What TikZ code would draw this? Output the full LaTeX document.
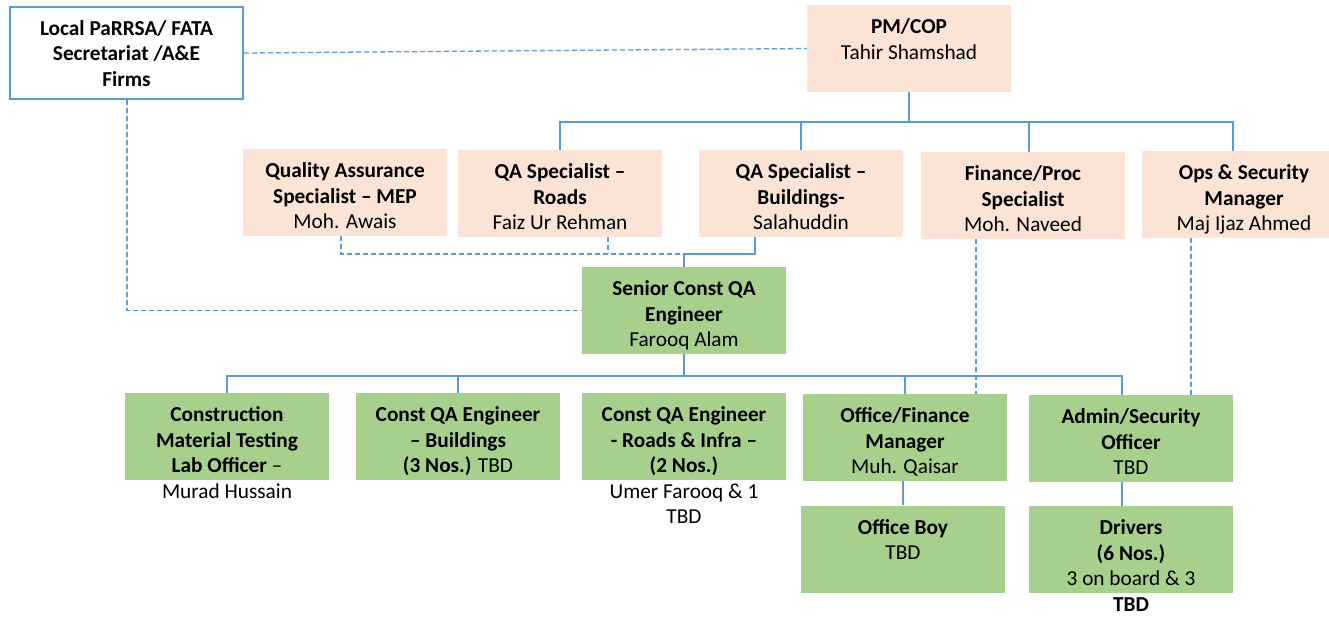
\documentclass[tikz,border=0pt]{standalone}
\usepackage{fontspec}
\setmainfont{Carlito}
\usetikzlibrary{positioning}
\definecolor{peach}{HTML}{FBE4D5}
\definecolor{leaf}{HTML}{A8D08D}
\definecolor{linkblue}{HTML}{5B9BD5}
\tikzset{
  post/.style={minimum width=204pt, minimum height=87pt, inner sep=0pt, draw=none},
  upper/.style={post, fill=peach},
  lower/.style={post, fill=leaf},
  caption/.style={anchor=north, inner sep=0pt, align=center, text=black,
    font=\fontsize{21.3}{25.5}\selectfont, execute at begin node=\strut},
  link/.style={draw=linkblue, line width=1.3pt},
  dotlink/.style={link, dash pattern=on 5pt off 3pt},
}
\begin{document}
\begin{tikzpicture}[x=1pt, y=-1pt]
    \useasboundingbox (0,0) rectangle (1329,616);

    % 外部单位与 PM/COP
    \node[post, fill=white, draw=linkblue, line width=2pt, minimum width=233pt, minimum height=92pt] (local) at (126.5,53) {};
    \node[caption, below=14pt of local.north] (local-t) {\textbf{Local PaRRSA/ FATA}\\\textbf{Secretariat /A\&E}\\\textbf{Firms}};
    \node[upper] (pm) at (909,48.5) {};
    \node[caption, below=14pt of pm.north] (pm-t) {\textbf{PM/COP}\\Tahir Shamshad};

    % 第二层：专家
    \node[upper] (mep) at (345,192.5) {};
    \node[caption, below=14pt of mep.north] (mep-t) {\textbf{Quality Assurance}\\\textbf{Specialist – MEP}\\Moh. Awais};
    \node[upper] (roads) at (560,193.5) {};
    \node[caption, below=14pt of roads.north] (roads-t) {\textbf{QA Specialist –}\\\textbf{Roads}\\Faiz Ur Rehman};
    \node[upper] (bldg) at (801,193.5) {};
    \node[caption, below=14pt of bldg.north] (bldg-t) {\textbf{QA Specialist –}\\\textbf{Buildings-}\\Salahuddin};
    \node[upper] (fin) at (1023,195.5) {};
    \node[caption, below=14pt of fin.north] (fin-t) {\textbf{Finance/Proc}\\\textbf{Specialist}\\Moh. Naveed};
    \node[upper] (ops) at (1244,194.5) {};
    \node[caption, below=14pt of ops.north] (ops-t) {\textbf{Ops \& Security}\\\textbf{Manager}\\Maj Ijaz Ahmed};

    % 第三层：高级工程师
    \node[lower] (senior) at (684,310.5) {};
    \node[caption, below=14pt of senior.north] (senior-t) {\textbf{Senior Const QA}\\\textbf{Engineer}\\Farooq Alam};

    % 第四层
    \node[lower] (lab) at (227,436.5) {};
    \node[caption, below=14pt of lab.north] (lab-t) {\textbf{Construction}\\\textbf{Material Testing}\\\textbf{Lab Officer} –\\Murad Hussain};
    \node[lower] (cqab) at (458,436.5) {};
    \node[caption, below=14pt of cqab.north] (cqab-t) {\textbf{Const QA Engineer}\\\textbf{– Buildings}\\\textbf{(3 Nos.)} TBD};
    \node[lower] (cqar) at (684,436.5) {};
    \node[caption, below=14pt of cqar.north] (cqar-t) {\textbf{Const QA Engineer}\\\textbf{- Roads \& Infra –}\\\textbf{(2 Nos.)}\\Umer Farooq \& 1\\TBD};
    \node[lower] (ofm) at (905,437.5) {};
    \node[caption, below=14pt of ofm.north] (ofm-t) {\textbf{Office/Finance}\\\textbf{Manager}\\Muh. Qaisar};
    \node[lower] (admin) at (1131,438.5) {};
    \node[caption, below=14pt of admin.north] (admin-t) {\textbf{Admin/Security}\\\textbf{Officer}\\TBD};

    % 第五层
    \node[lower] (boy) at (903,549) {};
    \node[caption, below=14pt of boy.north] (boy-t) {\textbf{Office Boy}\\TBD};
    \node[lower] (drivers) at (1131,549.5) {};
    \node[caption, below=14pt of drivers.north] (drivers-t) {\textbf{Drivers}\\\textbf{(6 Nos.)}\\3 on board \& 3\\\textbf{TBD}};

    % 实线连接
    \coordinate (hub1) at (908,122);
    \coordinate (hub2) at (684,376);
    \draw[link] (pm.south) -- (pm.south |- hub1);
    \draw[link] (roads.north) |- (1233,122) -- (1233,0 |- ops.north);
    \draw[link] (bldg.north) -- (bldg.north |- hub1);
    \draw[link] (fin.north -| 1029,0) -- (1029,122);
    \draw[link] (bldg.south -| 755,0) -- (755,254) -| (senior.north);
    \draw[link] (senior.south) -- (hub2);
    \draw[link] (lab.north) |- (1122,376) -- (1122,0 |- admin.north);
    \draw[link] (cqab.north) -- (cqab.north |- hub2);
    \draw[link] (ofm.north) -- (ofm.north |- hub2);
    \draw[link] (ofm.south -| 903,0) -- (903,0 |- boy.north);
    \draw[link] (admin.south -| 1122,0) -- (1122,0 |- drivers.north);

    % 虚线连接
    \draw[dotlink] (local.east) -- (pm.west);
    \draw[dotlink] (local.south -| 127,0) |- (senior.west);
    \draw[dotlink] (mep.south -| 341,0) |- (senior.north |- 0,254);
    \draw[dotlink] (roads.south -| 608,0) -- (608,254);
    \draw[dotlink] (fin.south -| 976,0) -- (976,0 |- ofm.north);
    \draw[dotlink] (ops.south -| 1191,0) -- (1191,0 |- admin.north);

\end{tikzpicture}
\end{document}
